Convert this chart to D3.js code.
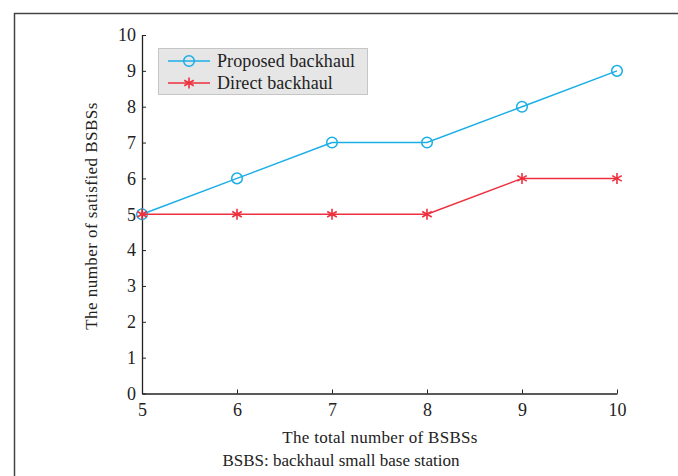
<!DOCTYPE html>
<html>
<head>
<meta charset="utf-8">
<script src="https://cdn.jsdelivr.net/npm/d3@7"></script>
<style>
  body { margin: 0; background: #fff; }
</style>
</head>
<body>
<div id="chart"></div>
<script>
var width = 678,
    height = 476,
    margin = {top: 35, bottom: 82, left: 142, right: 61},
    serif = "'Liberation Serif', 'Times New Roman', serif";

// data
var bsbsTotal = [5, 6, 7, 8, 9, 10];
var proposed = [5, 6, 7, 7, 8, 9];
var direct = [5, 5, 5, 5, 6, 6];
var xTicks = [5, 6, 7, 8, 9, 10];
var yTicks = [0, 1, 2, 3, 4, 5, 6, 7, 8, 9, 10];
var seriesNames = ["Proposed backhaul", "Direct backhaul"];

var blue = "#1aaee6",
    red = "#ee2f3e";

var svg = d3.select("#chart").append("svg")
  .attr("width", width)
  .attr("height", height)
  .style("font-family", serif);

// outer frame (top + left only)
svg.append("path")
  .attr("d", "M14.5," + height + "V13.5H" + width)
  .attr("fill", "none")
  .attr("stroke", "#444")
  .attr("stroke-width", 1.5);

var x = d3.scaleLinear().domain([5, 10]).range([margin.left, width - margin.right]);
var y = d3.scaleLinear().domain([0, 10]).range([height - margin.bottom - 0.5, margin.top]);

//axes, ticks pointing inward
var xAxis = svg.append("g")
  .attr("transform", "translate(0," + y(0) + ")")
  .call(d3.axisBottom(x).tickValues(xTicks).tickFormat(d3.format("d"))
    .tickSizeInner(-4).tickSizeOuter(0).tickPadding(10));
var yAxis = svg.append("g")
  .attr("transform", "translate(" + x(5) + ",0)")
  .call(d3.axisLeft(y).tickValues(yTicks).tickFormat(d3.format("d"))
    .tickSizeInner(-4).tickSizeOuter(0).tickPadding(6));

[xAxis, yAxis].forEach(function(a) {
  a.attr("font-family", serif);
  a.select(".domain").attr("stroke", "#222").attr("stroke-width", 1.3);
  a.selectAll(".tick line").attr("stroke", "#222");
  a.selectAll("text").style("font-family", serif).style("font-size", "18px").attr("fill", "#222");
});
xAxis.selectAll("text").attr("dy", "0.71em");

// labels
svg.append("text")
  .attr("x", 380).attr("y", 443)
  .attr("text-anchor", "middle")
  .style("font-size", "17px")
  .style("letter-spacing", "0.3px")
  .attr("fill", "#222")
  .text("The total number of BSBSs");

svg.append("text")
  .attr("x", 341).attr("y", 466)
  .attr("text-anchor", "middle")
  .style("font-size", "17px")
  .attr("fill", "#222")
  .text("BSBS: backhaul small base station");

svg.append("text")
  .attr("transform", "translate(97,216) rotate(-90)")
  .attr("text-anchor", "middle")
  .style("font-size", "17px")
  .style("letter-spacing", "0.45px")
  .attr("fill", "#222")
  .text("The number of satisfied BSBSs");

var line = d3.line()
  .x(function(d) { return x(d[0]); })
  .y(function(d) { return y(d[1]); });

var asterisk = function(g, cx, cy, s) {
  var p = "";
  [0, 60, 120].forEach(function(a) {
    var r = a * Math.PI / 180;
    p += "M" + (cx - s * Math.sin(r)) + "," + (cy - s * Math.cos(r)) +
         "L" + (cx + s * Math.sin(r)) + "," + (cy + s * Math.cos(r));
  });
  g.append("path").attr("d", p).attr("stroke", red).attr("stroke-width", 1.6).attr("fill", "none");
};

var propData = d3.zip(bsbsTotal, proposed);
var dirData = d3.zip(bsbsTotal, direct);

svg.append("path")
  .datum(propData)
  .attr("d", line)
  .attr("fill", "none")
  .attr("stroke", blue)
  .attr("stroke-width", 1.5);

svg.append("g").selectAll("circle")
  .data(propData)
  .enter()
  .append("circle")
  .attr("cx", function(d) { return x(d[0]); })
  .attr("cy", function(d) { return y(d[1]); })
  .attr("r", 5.3)
  .attr("fill", "none")
  .attr("stroke", blue)
  .attr("stroke-width", 1.5);

svg.append("path")
  .datum(dirData)
  .attr("d", line)
  .attr("fill", "none")
  .attr("stroke", red)
  .attr("stroke-width", 1.5);

var stars = svg.append("g");
dirData.forEach(function(d) { asterisk(stars, x(d[0]), y(d[1]), 5.5); });

// legend
var lg = svg.append("g");
lg.append("rect")
  .attr("x", 158.5).attr("y", 48.5)
  .attr("width", 209).attr("height", 46)
  .attr("fill", "#e6e6e7")
  .attr("stroke", "#999")
  .attr("stroke-dasharray", "1,1");

seriesNames.forEach(function(name, i) {
  var ly = 61 + i * 22;
  lg.append("line")
    .attr("x1", 168).attr("x2", 210)
    .attr("y1", ly).attr("y2", ly)
    .attr("stroke", i == 0 ? blue : red)
    .attr("stroke-width", 1.5);
  if (i == 0) {
    lg.append("circle").attr("cx", 189).attr("cy", ly).attr("r", 5.3)
      .attr("fill", "none").attr("stroke", blue).attr("stroke-width", 1.5);
  } else {
    asterisk(lg, 189, ly, 5.5);
  }
  lg.append("text")
    .attr("x", 217).attr("y", ly)
    .attr("dy", "0.35em")
    .style("font-size", "18px")
    .style("letter-spacing", "0.1px")
    .attr("fill", "#222")
    .text(name);
});
</script>
</body>
</html>
